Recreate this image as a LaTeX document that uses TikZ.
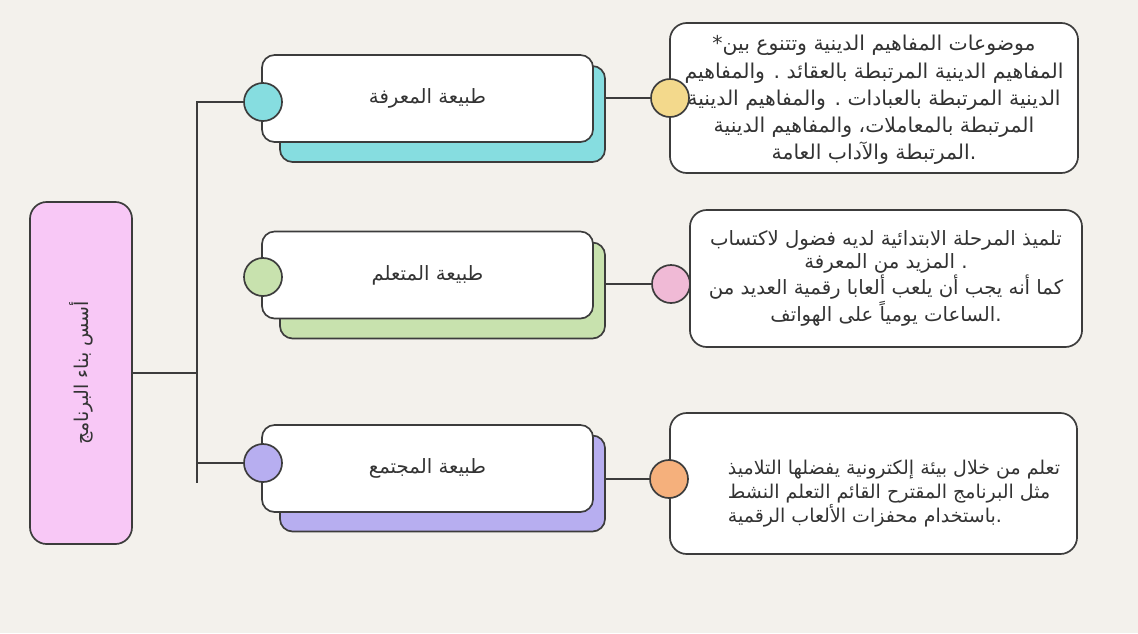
\documentclass[tikz,border=0pt]{standalone}
\usepackage{fontspec}
\TeXXeTstate=1
\newfontfamily\arabicfont[Script=Arabic]{DejaVu Sans}
\usetikzlibrary{positioning}
\definecolor{paper}{HTML}{F3F1EC}
\definecolor{edge}{HTML}{3C3C3C}
\definecolor{inkgray}{HTML}{333333}
\definecolor{rootpink}{HTML}{F8C8F6}
\definecolor{tealfill}{HTML}{86DDE0}
\definecolor{greenfill}{HTML}{C8E2AE}
\definecolor{lilacfill}{HTML}{B7AEF0}
\definecolor{sandfill}{HTML}{F3D98C}
\definecolor{rosefill}{HTML}{F0BAD6}
\definecolor{peachfill}{HTML}{F5B07C}
\tikzset{
  card/.style     = {draw=edge, line width=1.2pt, fill=white, rounded corners=9pt,
                     minimum width=8.275cm, minimum height=2.175cm, text=inkgray,
                     font=\arabicfont\fontsize{14}{17}\selectfont},
  backcard/.style = {draw=edge, line width=1.2pt, rounded corners=9pt,
                     minimum width=8.125cm, minimum height=2.4cm},
  note/.style     = {draw=edge, line width=1.2pt, fill=white, rounded corners=12pt,
                     inner sep=0pt, text=inkgray, align=center},
  knob/.style     = {circle, draw=edge, line width=1.2pt, minimum size=0.95cm, inner sep=0pt},
  wire/.style     = {draw=edge, line width=1pt},
  notetext/.style = {text=inkgray},
}

\begin{document}
\begin{tikzpicture}[x=0.025cm, y=-0.025cm]
  \fill[paper] (0,0) rectangle (1138,633);
  \useasboundingbox (0,0) rectangle (1138,633);

  % root
  \node[draw=edge, line width=1.2pt, fill=rootpink, rounded corners=12pt,
        minimum width=2.55cm, minimum height=8.55cm] (root) at (81,373) {};
  \node[rotate=90, text=inkgray, font=\arabicfont\fontsize{13.5}{16}\selectfont]
       (roottext) at (root) {\beginR أسس بناء البرنامج\endR};

  % three branches
  \node[backcard, fill=tealfill]  (s1) at (442.5,114)   {};
  \node[card] (c1) at (427.5,98.5) {\beginR طبيعة المعرفة\endR};
  \node[knob, fill=tealfill] (k1) at (263,102) {};

  \node[backcard, fill=greenfill] (s2) at (442.5,290.5) {};
  \node[card] (c2) at (427.5,275) {\beginR طبيعة المتعلم\endR};
  \node[knob, fill=greenfill] (k2) at (263,277) {};

  \node[backcard, fill=lilacfill] (s3) at (442.5,483.5) {};
  \node[card] (c3) at (427.5,468.5) {\beginR طبيعة المجتمع\endR};
  \node[knob, fill=lilacfill] (k3) at (263,463) {};

  % tree
  \coordinate (trunk) at (197,373);
  \coordinate (trunkend) at (197,483);
  \draw[wire] (root.east |- trunk) -- (trunk);
  \draw[wire] (k1.west) -| (trunkend);
  \draw[wire] (k3.west) -- (k3.west -| trunk);

  % notes
  \node[note, minimum width=10.2cm, minimum height=3.75cm] (n1) at (874,98) {};
  \node[notetext, align=center, font=\arabicfont\fontsize{14.5}{19.3}\selectfont] (t1) at (874,100)
       {*\beginR موضوعات المفاهيم الدينية وتتنوع بين\endR\\
        \beginR المفاهيم الدينية المرتبطة بالعقائد . والمفاهيم\endR\\
        \beginR الدينية المرتبطة بالعبادات . والمفاهيم الدينية\endR\\
        \beginR المرتبطة بالمعاملات، والمفاهيم الدينية\endR\\
        \beginR المرتبطة والآداب العامة\endR.};
  \node[note, minimum width=9.8cm, minimum height=3.425cm,
        font=\arabicfont\fontsize{14}{16.5}\selectfont] (n2) at (886,278.5)
       {\beginR تلميذ المرحلة الابتدائية لديه فضول لاكتساب\endR\\
        \beginR المزيد من المعرفة\endR{} .\\
        \beginR كما أنه يجب أن يلعب ألعابا رقمية العديد من\endR\\
        \beginR الساعات يومياً على الهواتف\endR.};
  \node[note, minimum width=10.175cm, minimum height=3.525cm] (n3) at (873.5,483.5) {};
  \node[notetext, align=left, font=\arabicfont\fontsize{13.5}{17}\selectfont] (t3) at (894,494)
       {\beginR تعلم من خلال بيئة إلكترونية يفضلها التلاميذ\endR\\
        \beginR مثل البرنامج المقترح القائم التعلم النشط\endR\\
        \beginR باستخدام محفزات الألعاب الرقمية\endR.};

  \node[knob, fill=sandfill]  (d1) at (670,98)  {};
  \node[knob, fill=rosefill]  (d2) at (671,284) {};
  \node[knob, fill=peachfill] (d3) at (669,479) {};
  \draw[wire] (s1.east |- d1) -- (d1);
  \draw[wire] (s2.east |- d2) -- (d2);
  \draw[wire] (s3.east |- d3) -- (d3);
\end{tikzpicture}
\end{document}
